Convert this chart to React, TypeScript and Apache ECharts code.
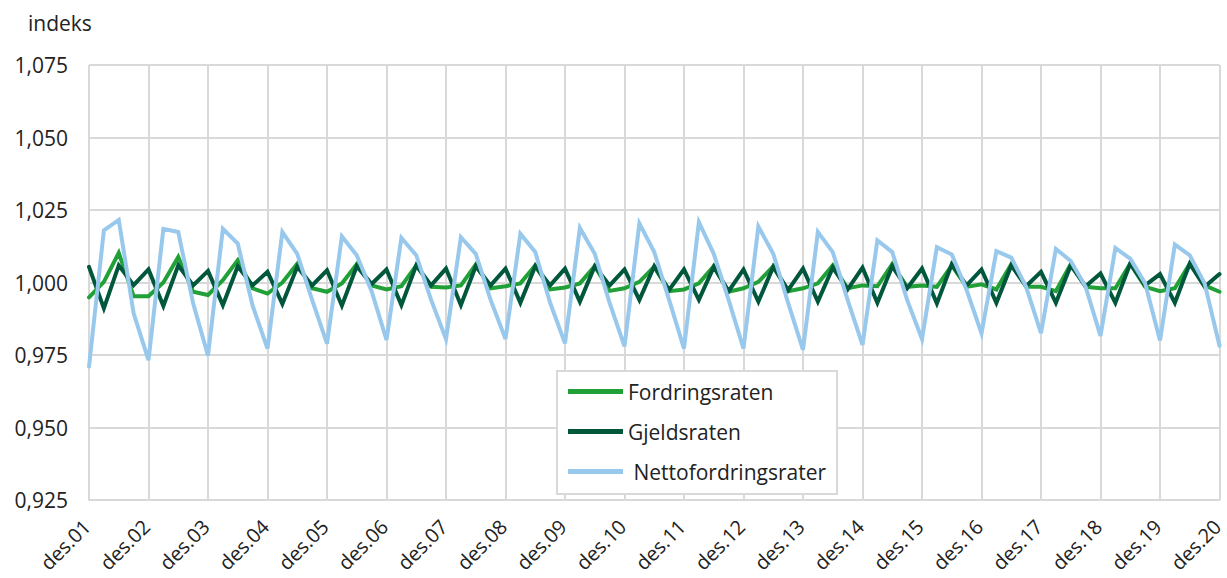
import React, { useEffect, useRef } from "react";
import * as echarts from "echarts";

const years = ["01","02","03","04","05","06","07","08","09","10","11","12","13","14","15","16","17","18","19","20"];
const months = ["mar", "jun", "sep", "des"];
const categories: string[] = ["des." + years[0]];
for (let i = 1; i < years.length; i++) {
  for (const m of months) categories.push(m + "." + years[i]);
}

const seriesNames = ["Fordringsraten", "Gjeldsraten", " Nettofordringsrater"];

const fordringsraten = [
  0.9949,
  1.0002, 1.0102, 0.9953, 0.9953,
  1.0000, 1.0088, 0.9968, 0.9957,
  1.0008, 1.0077, 0.9980, 0.9962,
  1.0000, 1.0065, 0.9980, 0.9968,
  0.9997, 1.0063, 0.9990, 0.9976,
  0.9987, 1.0059, 0.9985, 0.9983,
  0.9990, 1.0062, 0.9980, 0.9987,
  0.9997, 1.0059, 0.9976, 0.9983,
  0.9997, 1.0056, 0.9971, 0.9980,
  1.0002, 1.0054, 0.9970, 0.9976,
  0.9997, 1.0056, 0.9968, 0.9980,
  1.0002, 1.0056, 0.9970, 0.9980,
  0.9997, 1.0059, 0.9980, 0.9990,
  0.9987, 1.0063, 0.9985, 0.9990,
  0.9985, 1.0059, 0.9985, 0.9994,
  0.9976, 1.0063, 0.9985, 0.9985,
  0.9970, 1.0063, 0.9985, 0.9980,
  0.9980, 1.0065, 0.9985, 0.9970,
  0.9980, 1.0065, 0.9990, 0.9968,
];

const gjeldsraten = [
  1.0054,
  0.9911, 1.0059, 0.9991, 1.0045,
  0.9919, 1.0059, 0.9990, 1.0040,
  0.9922, 1.0056, 0.9990, 1.0037,
  0.9926, 1.0054, 0.9990, 1.0042,
  0.9920, 1.0056, 0.9995, 1.0045,
  0.9922, 1.0059, 0.9990, 1.0048,
  0.9922, 1.0056, 0.9990, 1.0048,
  0.9930, 1.0056, 0.9990, 1.0048,
  0.9934, 1.0056, 0.9990, 1.0045,
  0.9940, 1.0056, 0.9974, 1.0045,
  0.9940, 1.0054, 0.9970, 1.0045,
  0.9934, 1.0054, 0.9974, 1.0048,
  0.9934, 1.0051, 0.9976, 1.0051,
  0.9930, 1.0056, 0.9980, 1.0048,
  0.9928, 1.0063, 0.9990, 1.0045,
  0.9930, 1.0059, 0.9987, 1.0037,
  0.9930, 1.0059, 0.9987, 1.0031,
  0.9930, 1.0065, 0.9990, 1.0029,
  0.9930, 1.0065, 0.9985, 1.0029,
];

const nettofordringsrater = [
  0.9710,
  1.0180, 1.0216, 0.9894, 0.9732,
  1.0185, 1.0174, 0.9928, 0.9748,
  1.0185, 1.0134, 0.9920, 0.9772,
  1.0174, 1.0099, 0.9940, 0.9789,
  1.0159, 1.0094, 0.9970, 0.9802,
  1.0154, 1.0094, 0.9940, 0.9805,
  1.0156, 1.0099, 0.9940, 0.9805,
  1.0168, 1.0105, 0.9930, 0.9790,
  1.0188, 1.0099, 0.9930, 0.9780,
  1.0204, 1.0105, 0.9940, 0.9772,
  1.0208, 1.0099, 0.9940, 0.9772,
  1.0193, 1.0099, 0.9930, 0.9768,
  1.0174, 1.0105, 0.9940, 0.9785,
  1.0145, 1.0105, 0.9940, 0.9805,
  1.0122, 1.0097, 0.9974, 0.9825,
  1.0108, 1.0086, 0.9985, 0.9825,
  1.0116, 1.0074, 0.9985, 0.9816,
  1.0119, 1.0082, 0.9997, 0.9800,
  1.0131, 1.0094, 0.9997, 0.9782,
];

const colors = ["#21a038", "#00573b", "#98c9ed"];
const FONT = "'Open Sans', sans-serif";
const TEXT = "#222222";
const GRID = "#d9d9d9";
const FS = 21;

export default function App() {
  const ref = useRef<HTMLDivElement>(null);
  useEffect(() => {
    if (!ref.current) return;
    const chart = echarts.init(ref.current, undefined, { renderer: "svg" });
    chart.setOption({
      animation: false,
      backgroundColor: "#ffffff",
      textStyle: { fontFamily: FONT },
      color: colors,
      grid: {
        left: 89,
        right: 7.5,
        top: 65,
        bottom: 78,
        containLabel: false,
        outerBoundsMode: "none",
      },
      graphic: [
        {
          type: "text",
          x: 28,
          y: 23,
          style: {
            text: "indeks",
            fontSize: FS,
            fontFamily: FONT,
            fill: TEXT,
            textVerticalAlign: "middle",
          },
        },
      ],
      legend: {
        orient: "vertical",
        left: 557,
        top: 371,
        backgroundColor: "#ffffff",
        borderColor: GRID,
        borderWidth: 2,
        padding: [10, 11, 12, 11],
        itemGap: 19,
        itemWidth: 55,
        itemHeight: 5,
        icon: "rect",
        textStyle: { fontSize: FS, lineHeight: 21, color: TEXT, fontFamily: FONT },
        data: seriesNames,
      },
      xAxis: {
        type: "category",
        boundaryGap: false,
        data: categories,
        axisLine: { show: true, lineStyle: { color: GRID, width: 2 } },
        axisTick: { show: false, interval: 3 },
        axisLabel: {
          interval: 3,
          rotate: 45,
          fontSize: 20,
          lineHeight: 16,
          padding: [0, 3, 0, 0],
          color: TEXT,
          fontFamily: FONT,
          margin: 21,
          hideOverlap: false,
        },
        splitLine: { show: true, interval: 3, lineStyle: { color: GRID, width: 2 } },
      },
      yAxis: {
        type: "value",
        min: 0.925,
        max: 1.075,
        interval: 0.025,
        axisLine: { show: false },
        axisTick: { show: false },
        axisLabel: {
          fontSize: FS,
          color: TEXT,
          fontFamily: FONT,
          margin: 21,
          formatter: (v: number) => v.toFixed(3).replace(".", ","),
        },
        splitLine: { show: true, lineStyle: { color: GRID, width: 2 } },
      },
      series: [
        { name: seriesNames[0], data: fordringsraten },
        { name: seriesNames[1], data: gjeldsraten },
        { name: seriesNames[2], data: nettofordringsrater },
      ].map((s, i) => ({
        ...s,
        type: "line",
        showSymbol: false,
        symbol: "none",
        lineStyle: { width: 4, color: colors[i], cap: "round", join: "miter" },
        itemStyle: { color: colors[i] },
      })),
    });
    return () => chart.dispose();
  }, []);
  return (
    <div
      ref={ref}
      style={{ position: "fixed", left: 0, top: 0, width: 1227, height: 578 }}
    />
  );
}
